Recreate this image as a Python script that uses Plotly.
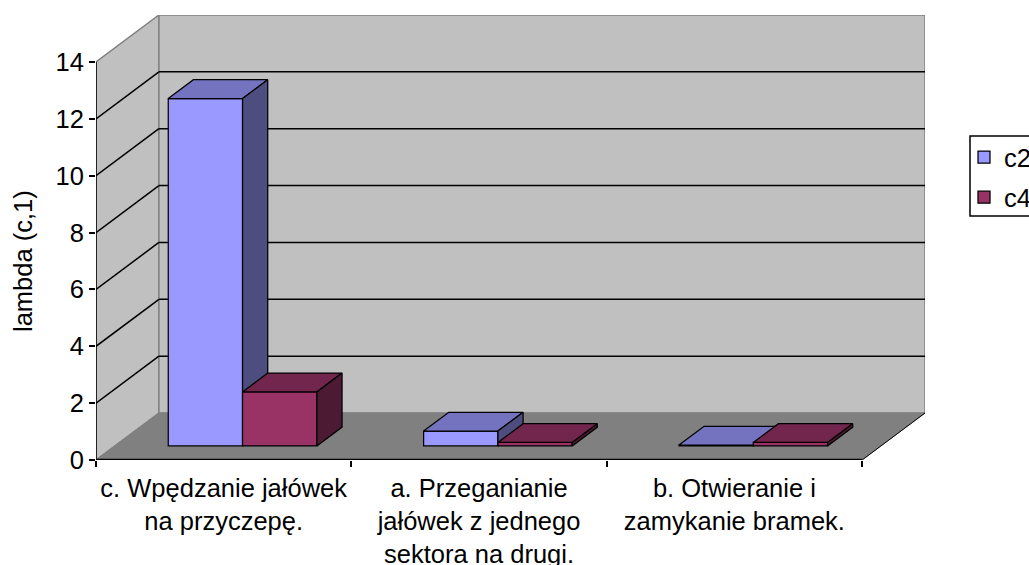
# Oblique "3D" clustered columns drawn on overlaid cartesian axes

import plotly.graph_objects as go

# Data
categories = ["c. Wpędzanie jałówek<br>na przyczepę.",
              "a. Przeganianie<br>jałówek z jednego<br>sektora na drugi.",
              "b. Otwieranie i<br>zamykanie bramek."]
c2_values = [12.22, 0.52, 0.03]
c4_values = [1.9, 0.12, 0.12]
y_ticks = [0, 2, 4, 6, 8, 10, 12, 14]
series_names = ["c2", "c4"]
front_colors = ["#9999FF", "#993366"]
top_colors = ["#7373BF", "#73264D"]
side_colors = ["#4D4D80", "#4D1A33"]

# Geometry of the fake depth, in axis units
DEPTH_X = 63 / 255.67
DEPTH_Y = 47 / 28.43
BAR_FRONT = 0.3
BAR_BACK = 0.7
BAR_WIDTH = 0.291
X_MAX = len(categories) + DEPTH_X
Y_MAX = y_ticks[-1] + DEPTH_Y
FONT = "Liberation Sans, Arial, sans-serif"


def project(x, y, depth):
    return x + depth * DEPTH_X, y + depth * DEPTH_Y


def add_face(fig, corners, fill, line_color, line_width, axis_x="x", axis_y="y"):
    points = [project(*p) for p in corners + corners[:1]]
    fig.add_trace(go.Scatter(
        x=[p[0] for p in points], y=[p[1] for p in points],
        mode="lines", fill="toself", fillcolor=fill,
        line=dict(color=line_color, width=line_width),
        showlegend=False, hoverinfo="skip", xaxis=axis_x, yaxis=axis_y
    ))


def add_edge(fig, start, end, color, width, axis_x="x", axis_y="y"):
    points = [project(*start), project(*end)]
    fig.add_trace(go.Scatter(
        x=[p[0] for p in points], y=[p[1] for p in points],
        mode="lines", line=dict(color=color, width=width),
        showlegend=False, hoverinfo="skip", xaxis=axis_x, yaxis=axis_y, cliponaxis=False
    ))


def add_series(fig, index, values):
    axis_x = f"x{index + 2}"
    axis_y = f"y{index + 2}"
    lefts = [i + 0.5 - BAR_WIDTH + index * BAR_WIDTH for i in range(len(values))]

    # front faces, the only part that goes in the legend
    fig.add_trace(go.Bar(
        x=[project(left, 0, BAR_FRONT)[0] for left in lefts],
        y=values,
        base=[project(0, 0, BAR_FRONT)[1]] * len(values),
        width=BAR_WIDTH, offset=0,
        name=series_names[index], legendgroup=series_names[index],
        marker=dict(color=front_colors[index], line=dict(color="black", width=1.25)),
        xaxis=axis_x, yaxis=axis_y, hoverinfo="skip"
    ))

    # top and side faces
    for left, value in zip(lefts, values):
        right = left + BAR_WIDTH
        add_face(fig, [(left, value, BAR_FRONT), (right, value, BAR_FRONT),
                       (right, value, BAR_BACK), (left, value, BAR_BACK)],
                 top_colors[index], "black", 1.25, axis_x, axis_y)
        add_face(fig, [(right, 0, BAR_FRONT), (right, value, BAR_FRONT),
                       (right, value, BAR_BACK), (right, 0, BAR_BACK)],
                 side_colors[index], "black", 1.25, axis_x, axis_y)


fig = go.Figure()

# Walls, floor and grid on the base axes, under the bars
top = y_ticks[-1]
n = len(categories)
add_face(fig, [(0, 0, 0), (0, top, 0), (0, top, 1), (0, 0, 1)], "#C0C0C0", "#808080", 1.5)
add_face(fig, [(0, 0, 1), (0, top, 1), (n, top, 1), (n, 0, 1)], "#C0C0C0", "#808080", 1.5)
add_face(fig, [(0, 0, 0), (n, 0, 0), (n, 0, 1), (0, 0, 1)], "#808080", "#808080", 1)
for tick in y_ticks[1:-1]:
    add_edge(fig, (0, tick, 0), (0, tick, 1), "black", 1.5)
    add_edge(fig, (0, tick, 1), (n, tick, 1), "black", 1.5)
add_edge(fig, (0, 0, 0), (0, top, 0), "black", 1.5)
add_edge(fig, (0, 0, 0), (n, 0, 0), "black", 2.5)
add_edge(fig, (n, 0, 0), (n, 0, 1), "black", 1)

for i, series in enumerate([c2_values, c4_values]):
    add_series(fig, i, series)

hidden_x = dict(range=[0, X_MAX], overlaying="x", visible=False)
hidden_y = dict(range=[0, Y_MAX], overlaying="y", visible=False)

fig.update_layout(
    width=1029, height=565,
    margin=dict(l=96, r=104, t=15, b=105, autoexpand=False),
    paper_bgcolor="white", plot_bgcolor="white",
    font=dict(family=FONT, size=25.5, color="black"),
    barmode="overlay",
    # legend frame, cut off by the page edge as in the original
    shapes=[dict(type="rect", xref="paper", yref="paper",
                 x0=(970 - 96) / 829, x1=(1035 - 96) / 829,
                 y0=(460 - 216) / 445, y1=(460 - 136) / 445,
                 line=dict(color="black", width=1.5))],
    # title sits centred on the front axis, not on the whole plot area
    annotations=[dict(text="lambda (c,1)", textangle=-90, showarrow=False,
                      xref="paper", yref="paper", xanchor="center", yanchor="middle",
                      x=(23 - 96) / 829, y=(460 - 261) / 445, font=dict(size=25.5))],
    xaxis=dict(range=[0, X_MAX], tickvals=[i + 0.5 for i in range(n)], ticktext=categories,
               ticks="", showgrid=False, zeroline=False, showline=False, tickangle=0,
               ticklabelstandoff=10,
               minor=dict(tickvals=list(range(n + 1)), ticks="outside", ticklen=6,
                          tickcolor="black", tickwidth=1.5, showgrid=False)),
    yaxis=dict(range=[0, Y_MAX], tickvals=y_ticks, ticks="outside", ticklen=6,
               tickcolor="black", tickwidth=1.5, showgrid=False, zeroline=False,
               showline=False),
    xaxis2=hidden_x, yaxis2=hidden_y,
    xaxis3=hidden_x, yaxis3=hidden_y,
    legend=dict(x=(964 - 96) / 829, y=(460 - 134) / 445, xanchor="left", yanchor="top",
                bgcolor="rgba(0,0,0,0)", font=dict(size=25.5), itemwidth=30, tracegroupgap=4),
)

fig.write_html("out.html", config={"displayModeBar": False},
               post_script="document.body.style.margin = '0';")
